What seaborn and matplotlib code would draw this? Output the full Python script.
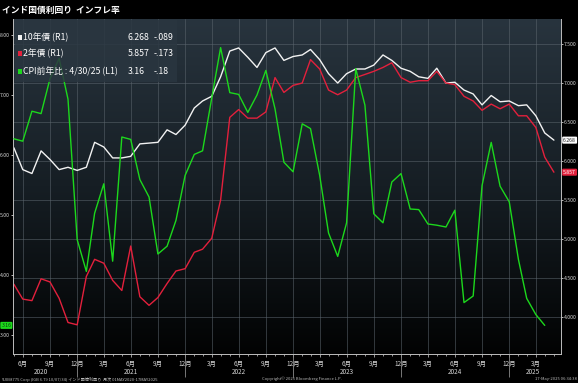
import numpy as np
import pandas as pd
import seaborn as sns
import matplotlib.pyplot as plt
import matplotlib.dates as mdates
from matplotlib.patches import Rectangle
from matplotlib.colors import LinearSegmentedColormap
from matplotlib.ticker import FixedLocator, FuncFormatter

# India CPI YoY (%), monthly May 2020 - Apr 2025 (left axis)
cpi = [6.27, 6.23, 6.73, 6.69, 7.27, 7.61, 6.93, 4.59,
       4.06, 5.03, 5.52, 4.23, 6.30, 6.26, 5.59, 5.30, 4.35, 4.48, 4.91, 5.66,
       6.01, 6.07, 6.95, 7.79, 7.04, 7.01, 6.71, 7.00, 7.41, 6.77, 5.88, 5.72,
       6.52, 6.44, 5.66, 4.70, 4.31, 4.87, 7.44, 6.83, 5.02, 4.87, 5.55, 5.69,
       5.10, 5.09, 4.85, 4.83, 4.80, 5.08, 3.54, 3.65, 5.49, 6.21, 5.48, 5.22,
       4.26, 3.61, 3.34, 3.16]

# 10y and 2y yields (%), monthly May 2020 - May 2025 (right axis)
y10 = [6.17, 5.89, 5.84, 6.13, 6.02, 5.89, 5.92, 5.88, 5.92, 6.24, 6.18, 6.04,
       6.04, 6.06, 6.22, 6.23, 6.24, 6.40, 6.34, 6.46, 6.68, 6.77, 6.83, 7.08,
       7.41, 7.45, 7.33, 7.20, 7.39, 7.45, 7.29, 7.34, 7.36, 7.43, 7.30, 7.12,
       7.00, 7.12, 7.18, 7.18, 7.23, 7.36, 7.29, 7.19, 7.15, 7.08, 7.06, 7.19,
       7.00, 7.01, 6.91, 6.86, 6.72, 6.84, 6.76, 6.77, 6.71, 6.72, 6.58, 6.36,
       6.268]
y2 = [4.42, 4.23, 4.21, 4.49, 4.45, 4.24, 3.93, 3.90, 4.52, 4.74, 4.69, 4.47,
      4.34, 4.91, 4.26, 4.15, 4.25, 4.43, 4.59, 4.62, 4.83, 4.87, 5.01, 5.50,
      6.56, 6.66, 6.55, 6.55, 6.63, 7.07, 6.88, 6.97, 7.00, 7.30, 7.18, 6.91,
      6.85, 6.91, 7.07, 7.11, 7.15, 7.20, 7.26, 7.07, 7.01, 7.03, 7.03, 7.15,
      7.00, 6.98, 6.83, 6.77, 6.65, 6.73, 6.67, 6.73, 6.58, 6.58, 6.43, 6.05,
      5.857]

cpi_dates = pd.date_range('2020-05-31', periods=len(cpi), freq='ME')
bond_dates = pd.date_range('2020-05-31', periods=len(y10), freq='ME')

month_names = {3: '3月', 6: '6月', 9: '9月', 12: '12月'}
years = ['2020', '2021', '2022', '2023', '2024', '2025']
year_pos = ['2020-09-01', '2021-07-01', '2022-07-01', '2023-07-01', '2024-07-01', '2025-03-20']

bonds = pd.DataFrame({'date': bond_dates, 'y10': y10, 'y2': y2})
infl = pd.DataFrame({'date': cpi_dates, 'cpi': cpi})

WHITE = '#f2f2f2'
RED = '#e3203c'
GREEN = '#1cd81c'
TXT = '#d4d4d4'
TICK_FS = 3.7

W, H = 578, 383


def fx(x):
    return x / W


def fy(y):
    return 1 - y / H


sns.set_theme(style='dark')
plt.rcParams['font.family'] = ['Noto Sans CJK JP', 'DejaVu Sans']

fig = plt.figure(figsize=(5.78, 3.83), dpi=100, facecolor='black')
pos = [fx(13), fy(354), fx(561) - fx(13), fy(19) - fy(354)]

# gradient background behind the plot
bg = fig.add_axes(pos, zorder=0)
cmap = LinearSegmentedColormap.from_list('bg', ['#28343e', '#161e24', '#020303'])
bg.imshow(np.linspace(0, 1, 256)[:, None], aspect='auto', cmap=cmap,
          extent=[0, 1, 0, 1], origin='upper')
bg.axis('off')

ax = fig.add_axes(pos, zorder=1)
ax.patch.set_visible(False)
ax2 = ax.twinx()
ax2.set_zorder(2)
ax2.patch.set_visible(False)

# bonds on the right axis
sns.lineplot(data=bonds, x='date', y='y10', ax=ax, color=WHITE, linewidth=1.0)
sns.lineplot(data=bonds, x='date', y='y2', ax=ax, color=RED, linewidth=1.0)
# CPI on the left axis
sns.lineplot(data=infl, x='date', y='cpi', ax=ax2, color=GREEN, linewidth=1.0)

for a in (ax, ax2):
    a.set_xlabel('')
    a.set_ylabel('')

ax.set_xlim(pd.Timestamp('2020-05-28'), pd.Timestamp('2025-06-24'))
ax.set_ylim(3.526, 7.821)
ax2.set_ylim(2.683, 8.267)

# x ticks: quarter ends, minor every month end
qdates = pd.date_range('2020-06-30', '2025-03-31', freq='QE-DEC')
ax.set_xticks(qdates)
ax.set_xticklabels([month_names[d.month] for d in qdates])
ax.xaxis.set_minor_locator(FixedLocator(mdates.date2num(
    pd.date_range('2020-05-31', '2025-05-31', freq='ME'))))

ax.yaxis.tick_right()
ax.set_yticks(np.arange(4.0, 7.51, 0.5))
ax.yaxis.set_major_formatter(FuncFormatter(lambda v, p: f'{v:.3f}'))
ax2.yaxis.tick_left()
ax2.set_yticks(np.arange(3, 8.01, 1))
ax2.yaxis.set_major_formatter(FuncFormatter(lambda v, p: f'{v:.2f}'))

ax.tick_params(axis='x', which='major', length=2.5, width=0.5, color=TXT,
               labelcolor=TXT, labelsize=4.6, pad=1.5, bottom=True)
ax.tick_params(axis='x', which='minor', length=1.5, width=0.5, color=TXT, bottom=True)
ax.tick_params(axis='y', length=1.5, width=0.6, color=TXT, labelcolor=TXT,
               labelsize=TICK_FS, pad=0.6, right=True, left=False,
               labelright=True, labelleft=False)
ax2.tick_params(axis='y', length=1.5, width=0.6, color=TXT, labelcolor=TXT,
                labelsize=TICK_FS, pad=0.6, left=True, right=False,
                labelleft=True, labelright=False)

ax.grid(True, axis='both', which='major', color='#5c666e', linewidth=0.5, alpha=0.75)
ax2.grid(False)

for s in ('left', 'bottom', 'right'):
    ax.spines[s].set_visible(True)
    ax.spines[s].set_color('#bdbdbd')
    ax.spines[s].set_linewidth(0.7)
ax.spines['top'].set_visible(False)
for s in ax2.spines.values():
    s.set_visible(False)

# year labels and separators below the axis
for yr, d in zip(years, year_pos):
    ax.text(pd.Timestamp(d), -18 / 335, yr, transform=ax.get_xaxis_transform(),
            ha='center', va='center', fontsize=4.6, color=TXT)
ax.vlines(pd.date_range('2020-12-31', '2024-12-31', freq='YE'), -0.07, 0,
          transform=ax.get_xaxis_transform(), clip_on=False,
          colors='#8a8a8a', linewidth=0.6)

# last value tags
ax.text(1.004, y10[-1], f'{y10[-1]:.3f}', transform=ax.get_yaxis_transform(),
        ha='left', va='center', fontsize=TICK_FS, color='#222222',
        bbox=dict(boxstyle='round,pad=0.2', fc='white', ec='none'))
ax.text(1.004, y2[-1], f'{y2[-1]:.3f}', transform=ax.get_yaxis_transform(),
        ha='left', va='center', fontsize=TICK_FS, color='white',
        bbox=dict(boxstyle='round,pad=0.2', fc=RED, ec='none'))
ax2.text(-0.003, cpi[-1], f'{cpi[-1]:.2f}', transform=ax2.get_yaxis_transform(),
         ha='right', va='center', fontsize=TICK_FS, color='#0b3a0b',
         bbox=dict(boxstyle='round,pad=0.2', fc=GREEN, ec='none'))

# title
fig.text(fx(2), fy(10), 'インド国債利回り  インフレ率', fontsize=6.3,
         weight='bold', color='white', va='center', ha='left')

# legend box
fig.add_artist(Rectangle((fx(15), fy(82)), fx(177) - fx(15), fy(20) - fy(82),
                         transform=fig.transFigure, facecolor='#2a3640',
                         alpha=0.85, edgecolor='none', zorder=3))
rows = [('10年債 (R1)', '6.268', '-.089', WHITE, 37),
        ('2年債 (R1)', '5.857', '-.173', RED, 53),
        ('CPI前年比 : 4/30/25 (L1)', '3.16', '-.18', GREEN, 71)]
for name, val, chg, col, yy in rows:
    fig.add_artist(Rectangle((fx(18), fy(yy + 2.5)), fx(4), 4.5 / H,
                             transform=fig.transFigure, facecolor=col,
                             edgecolor='none', zorder=4))
    fig.text(fx(23), fy(yy), name, fontsize=6.3, color='white',
             va='center', ha='left', zorder=5)
    fig.text(fx(128), fy(yy), val, fontsize=6.3, color='white',
             va='center', ha='left', zorder=5)
    fig.text(fx(154), fy(yy), chg, fontsize=6.3, color='white',
             va='center', ha='left', zorder=5)

# footer
fig.text(fx(1), fy(379), 'YUIB8775 Corp (IGB 6.79 10/07/34) インド国債利回り  月次 01MAY2020-17MAY2025',
         fontsize=3.0, color='#b8b8b8', va='center', ha='left')
fig.text(fx(302), fy(379), 'Copyright© 2025 Bloomberg Finance L.P.',
         fontsize=3.0, color='#b8b8b8', va='center', ha='center')
fig.text(fx(577), fy(379), '17-May-2025 06:34:38', fontsize=3.0,
         color='#b8b8b8', va='center', ha='right')

fig.savefig('out.png', dpi=100, facecolor='black')
